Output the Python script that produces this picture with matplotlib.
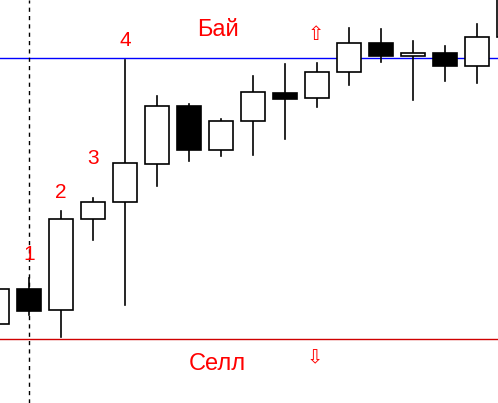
import matplotlib
matplotlib.use("Agg")
import matplotlib.pyplot as plt
from matplotlib.patches import Rectangle

# price values (pixel rows flipped so up = higher)
opens  = [ 79, 114,  93, 184, 201, 239, 297, 253, 282, 310, 305, 331, 360, 347, 350, 337, 366]
closes = [114,  92, 184, 201, 240, 297, 253, 282, 311, 304, 331, 360, 347, 350, 337, 366, 413]
highs  = [123, 125, 192, 205, 343, 307, 299, 284, 327, 339, 340, 375, 374, 362, 357, 379, 423]
lows   = [ 73,  88,  66, 163,  98, 217, 242, 247, 248, 264, 296, 318, 341, 303, 322, 320, 373]

buy_level = 345
sell_level = 64
marker_bar = 1
labels = ["1", "2", "3", "4"]
label_bars = [1, 2, 3, 4]
label_y = [148, 211, 244, 363]

fig = plt.figure(figsize=(4.98, 4.03), dpi=100)
ax = fig.add_axes([0, 0, 1, 1])
ax.set_xlim(3 / 32, 501 / 32)
ax.set_ylim(0, 403)
ax.axis("off")

w = 0.75
for i, (o, c, h, l) in enumerate(zip(opens, closes, highs, lows)):
    top, bot = max(o, c), min(o, c)
    ax.plot([i, i], [top, h], color="black", lw=1.2, zorder=2)
    ax.plot([i, i], [l, bot], color="black", lw=1.2, zorder=2)
    face = "white" if c >= o else "black"
    ax.add_patch(Rectangle((i - w / 2, bot), w, top - bot, facecolor=face,
                           edgecolor="black", lw=1.2, zorder=3))

ax.axhline(buy_level, color="blue", lw=1, zorder=1)
ax.axhline(sell_level, color="#d00000", lw=1, zorder=1)
ax.axvline(marker_bar, color="black", lw=1, ls=(0, (3, 3)), zorder=1)

for t, b, y in zip(labels, label_bars, label_y):
    ax.text(b, y, t, color="red", fontsize=15, family="Liberation Sans",
            ha="center", va="center", zorder=4)

ax.text(6.9, 373, "Бай", color="red", fontsize=17, family="Liberation Sans",
        ha="center", va="center")
ax.text(6.9, 39, "Селл", color="red", fontsize=17, family="Liberation Sans",
        ha="center", va="center")
ax.text(9.97, 368, "⇧", color="red", fontsize=14, family="DejaVu Sans",
        ha="center", va="center")
ax.text(9.92, 45, "⇩", color="red", fontsize=14, family="DejaVu Sans",
        ha="center", va="center")

fig.savefig("out.png", dpi=100)
